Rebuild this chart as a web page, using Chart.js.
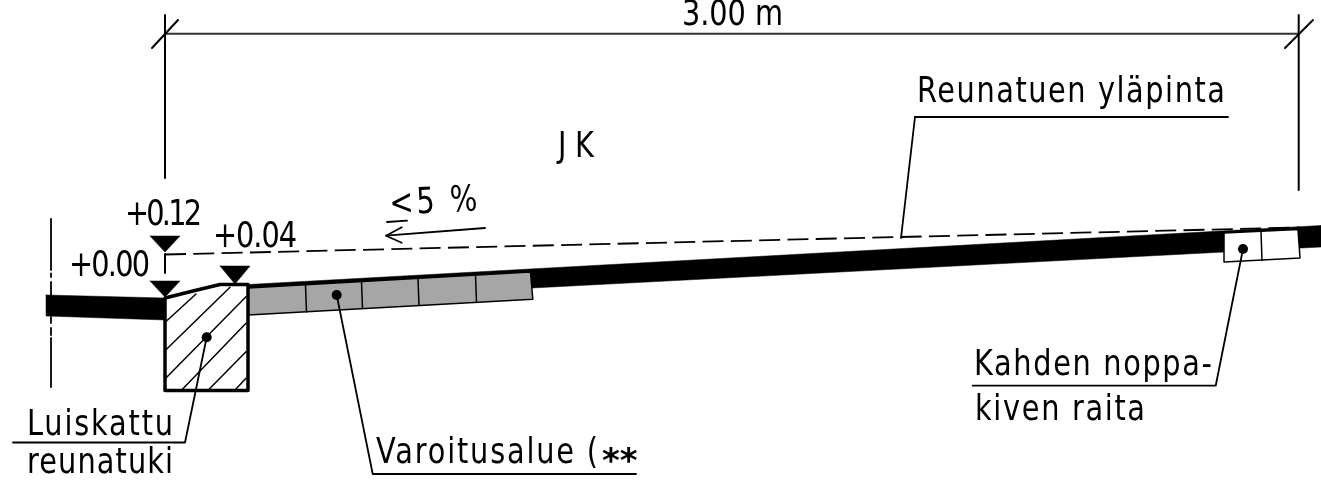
<!DOCTYPE html>
<html>
<head>
<meta charset="utf-8">
<title>Reunatuki</title>
<script src="https://cdn.jsdelivr.net/npm/chart.js@4"></script>
<style>
    html, body { margin: 0; padding: 0; background: #fff; overflow: hidden; }
    canvas { display: block; }
</style>
</head>
<body>
<canvas id="drawing" width="1321" height="484"></canvas>
<script>
// all points below are in drawing units (y runs downwards)
var leftPavement = [[46, 295], [165, 298], [165, 320], [46, 316]];
var mainPavement = [[248, 284.5], [1321, 225.5], [1321, 247], [532, 288], [530, 272], [248, 288]];
var warningArea = [[248, 288], [530.5, 272], [532.8, 299.3], [248, 315]];
var warningJoints = [
    [[305.5, 285], [306.5, 312]],
    [[361.5, 281.5], [362.5, 308.5]],
    [[418, 278.5], [419, 305.5]],
    [[475.5, 275], [476.5, 302.5]]
];
var stripStones = [[1224, 233], [1298, 229.5], [1300, 258], [1224, 262]];
var stripJoint = [[1261, 231.5], [1262, 260.5]];
var curbOutline = [[165, 298], [165, 390.5], [248, 390.5], [248, 284.5], [220, 284.5], [195, 290.5], [165, 298]];
var curbHatch = [
    [[165.7, 321.7], [196, 294]],
    [[165.7, 350], [230, 287.3]],
    [[165.7, 378.3], [246, 296.7]],
    [[181.7, 390], [246, 323.3]],
    [[208.3, 390], [246, 351.7]],
    [[235, 390], [246, 378.3]]
];
var topOfCurbLine = [[165, 254.5], [1300, 227.5]];
var levelMarks = [
    [[150, 236], [180, 236], [165, 252]],
    [[150, 281], [180, 281], [165, 297]],
    [[220, 266], [250, 266], [235, 284]]
];
var dimensionLine = [[165, 33.7], [1299, 33.7]];
var extensionLines = [
    [[165, 15], [165, 178]],
    [[165, 254], [165, 273]],
    [[1298.7, 15], [1298.7, 190]]
];
var dimensionTicks = [
    [[152, 48], [178, 20]],
    [[1285, 48], [1313, 20]]
];
var centreLine = [
    [[51, 219], [51, 270]],
    [[51, 273.5], [51, 277]],
    [[51, 282], [51, 295]],
    [[51, 317], [51, 323]],
    [[51, 328], [51, 335]],
    [[51, 338], [51, 387]]
];
var slopeArrow = [[485, 228], [386, 235.7]];
var slopeHead = [[401.7, 227.3], [386, 235.7], [401.7, 242.7]];
var slopeUnderline = [[387, 222], [407, 220.7]];
var leaders = [
    [[915, 117], [901, 238]],
    [[1228, 117], [915, 117]],
    [[206.7, 337.3], [185, 442.5], [13, 442.5]],
    [[336.7, 295], [372.7, 474], [636, 474]],
    [[1243, 249], [1215.7, 385.7], [972.7, 385.7]]
];
var leaderDots = [[206.7, 337.3], [336.7, 295], [1243, 249]];

var labelTexts = ['3.00 m', 'Reunatuen yläpinta', 'JK', '+0.12', '+0.04', '+0.00', 'Luiskattu', 'reunatuki', '<5 %', 'Varoitusalue (', 'Kahden noppa-', 'kiven raita'];
var labelX = [682, 917, 558, 125, 213, 69, 27, 27, 390, 376, 974, 975];
var labelY = [24.5, 102, 157, 225, 247, 276, 435, 473, 215, 463, 375, 420];
var labelEndX = [783, 1225, 594, 202, 297, 150, 173, 173, 478, 598, 1212, 1145];

var ink = '#000000';
var letterFont = '36px "DejaVu Sans"';
var letterSqueeze = 0.8;  // no narrow font here, so the glyphs get squeezed

function lineSet(points, width, extra) {
    var set = {
        data: points.map(function(p) { return { x: p[0], y: p[1] }; }),
        showLine: true,
        borderColor: ink,
        borderWidth: width,
        pointRadius: 0,
        tension: 0,
        fill: false,
        borderCapStyle: 'round',
        borderJoinStyle: 'round'
    };
    return Object.assign(set, extra || {});
}

function shapeSet(points, color, width) {
    return lineSet(points.concat([points[0]]), width, { fill: 'shape', backgroundColor: color });
}

// listed bottom layer first, reversed below because Chart.js paints dataset 0 last
var layers = [];
layers.push(shapeSet(leftPavement, ink, 0.5));
layers.push(shapeSet(mainPavement, ink, 0.5));
layers.push(shapeSet(warningArea, '#a6a6a6', 1.5));
warningJoints.forEach(function(l) { layers.push(lineSet(l, 1.5)); });
layers.push(shapeSet(stripStones, '#ffffff', 1.5));
layers.push(lineSet(stripJoint, 1.5));
curbHatch.forEach(function(l) { layers.push(lineSet(l, 1.5)); });
layers.push(lineSet(curbOutline, 3.5));
layers.push(lineSet(topOfCurbLine, 1.8, { borderDash: [21, 7.3], borderCapStyle: 'butt' }));
levelMarks.forEach(function(m) { layers.push(shapeSet(m, ink, 0.5)); });
layers.push(lineSet(dimensionLine, 2, { borderColor: '#333333' }));
extensionLines.forEach(function(l) { layers.push(lineSet(l, 2)); });
dimensionTicks.forEach(function(l) { layers.push(lineSet(l, 2)); });
centreLine.forEach(function(l) { layers.push(lineSet(l, 1.8, { borderCapStyle: 'butt' })); });
layers.push(lineSet(slopeArrow, 1.8));
layers.push(lineSet(slopeHead, 1.8));
layers.push(lineSet(slopeUnderline, 1.8));
leaders.forEach(function(l) { layers.push(lineSet(l, 1.8)); });
layers.push(lineSet(leaderDots, 0, { showLine: false, pointRadius: 5, pointBackgroundColor: ink, pointBorderWidth: 0 }));

// labels stretched with letter spacing so each one ends where it does in the drawing
var labelPlugin = {
    id: 'labels',
    afterDatasetsDraw: function(chart) {
        var ctx = chart.ctx;
        var sx = chart.scales.x;
        var sy = chart.scales.y;
        ctx.save();
        ctx.fillStyle = ink;
        ctx.textBaseline = 'alphabetic';
        labelTexts.forEach(function(text, i) {
            var x = sx.getPixelForValue(labelX[i]);
            var y = sy.getPixelForValue(labelY[i]);
            var target = (sx.getPixelForValue(labelEndX[i]) - x) / letterSqueeze;
            ctx.font = letterFont;
            ctx.letterSpacing = '0px';
            var w = ctx.measureText(text).width;
            ctx.letterSpacing = ((target - w) / (text.length - 1)) + 'px';
            ctx.save();
            ctx.translate(x, y);
            if (text === '<5 %') ctx.rotate(-3 * Math.PI / 180);
            ctx.scale(letterSqueeze, 1);
            ctx.fillText(text, 0, 0);
            ctx.restore();
        });
        // the two heavy asterisks after "Varoitusalue ("
        ctx.letterSpacing = '0px';
        ctx.font = 'bold 34px "DejaVu Sans"';
        ctx.fillText('**', sx.getPixelForValue(602), sy.getPixelForValue(472));
        ctx.restore();
    }
};

new Chart(document.getElementById('drawing').getContext('2d'), {
    type: 'scatter',
    data: { datasets: layers.reverse() },
    options: {
        responsive: false,
        animation: false,
        devicePixelRatio: 1,
        layout: { padding: 0, autoPadding: false },
        plugins: { legend: { display: false }, title: { display: false }, tooltip: { enabled: false } },
        scales: {
            x: { type: 'linear', min: 0, max: 1321, display: false },
            y: { type: 'linear', min: 0, max: 484, reverse: true, display: false }
        }
    },
    plugins: [labelPlugin]
});
</script>
</body>
</html>
